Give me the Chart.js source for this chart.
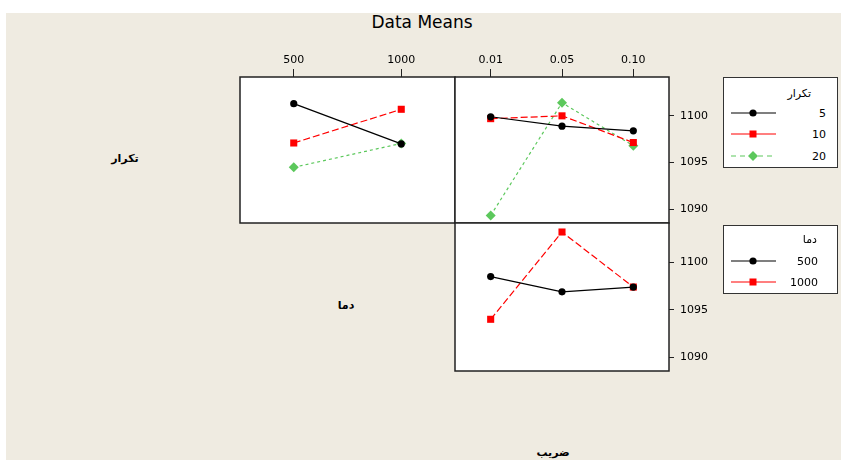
<!DOCTYPE html>
<html>
<head>
<meta charset="utf-8">
<script src="https://cdn.jsdelivr.net/npm/chart.js@4.4.1/dist/chart.umd.min.js"></script>
<style>
  html, body { margin:0; padding:0; }
  body { width:841px; height:460px; position:relative; overflow:hidden; background:#fff; font-family:"DejaVu Sans", sans-serif; }
  #bg { position:absolute; left:6px; top:13px; width:835px; height:447px; background:#EFEBE1; }
  canvas { position:absolute; left:0; top:0; }
  .txt { position:absolute; white-space:nowrap; color:#000; }
  .lab { font-weight:bold; font-size:11px; transform:translate(-50%,-50%); }
  .legend { position:absolute; box-sizing:border-box; background:#fff; border:1px solid #333; }
  .legend .lt { position:absolute; font-size:11px; direction:rtl; transform:translateY(-50%); }
  .legend .lv { position:absolute; font-size:11px; transform:translateY(-50%); }
  .legend svg { position:absolute; }
</style>
</head>
<body>
<div id="bg"></div>
<div class="txt" style="left:422px;top:22px;font-size:17px;transform:translate(-50%,-50%);">Data Means</div>
<div class="txt lab" style="left:125px;top:158px;" dir="rtl">تکرار</div>
<div class="txt lab" style="left:346px;top:305px;" dir="rtl">دما</div>
<div class="txt lab" style="left:553px;top:452px;" dir="rtl">ضریب</div>

<canvas id="cA" width="841" height="460"></canvas>
<canvas id="cB" width="841" height="460"></canvas>
<canvas id="cC" width="841" height="460"></canvas>

<div class="legend" style="left:723px;top:77px;width:115px;height:91px;">
  <div class="lt" style="right:26px;top:15px;">تکرار</div>
  <svg style="left:7px;top:29px" width="48" height="12"><line x1="0" y1="6" x2="45" y2="6" stroke="#000" stroke-width="1.2"/><circle cx="22" cy="6" r="3.6" fill="#000"/></svg>
  <div class="lv" style="right:11px;top:35px;">5</div>
  <svg style="left:7px;top:50px" width="48" height="12"><line x1="0" y1="6" x2="45" y2="6" stroke="#f00" stroke-width="1.2"/><rect x="18.5" y="2.5" width="7" height="7" fill="#f00"/></svg>
  <div class="lv" style="right:11px;top:56px;">10</div>
  <svg style="left:7px;top:72px" width="48" height="12"><line x1="0" y1="6" x2="45" y2="6" stroke="#5CC85C" stroke-width="1.2" stroke-dasharray="5,4"/><polygon points="22,1 27,6 22,11 17,6" fill="#5CC85C"/></svg>
  <div class="lv" style="right:11px;top:78px;">20</div>
</div>

<div class="legend" style="left:723px;top:225px;width:115px;height:69px;">
  <div class="lt" style="right:20px;top:13px;">دما</div>
  <svg style="left:7px;top:29px" width="48" height="12"><line x1="0" y1="6" x2="45" y2="6" stroke="#000" stroke-width="1.2"/><circle cx="22" cy="6" r="3.6" fill="#000"/></svg>
  <div class="lv" style="right:19px;top:35px;">500</div>
  <svg style="left:7px;top:50px" width="48" height="12"><line x1="0" y1="6" x2="45" y2="6" stroke="#f00" stroke-width="1.2"/><rect x="18.5" y="2.5" width="7" height="7" fill="#f00"/></svg>
  <div class="lv" style="right:19px;top:56px;">1000</div>
</div>

<script>
// ---- data ----
const tempLabels = ['500', '1000'];
const coefLabels = ['0.01', '0.05', '0.10'];
const yTicks = [1090, 1095, 1100];
const yMin = 1088.55;
const yMax = 1104.15;

// تکرار (repeat) series vs دما (temperature)
const rep5ByTemp  = [1101.3, 1097.0];
const rep10ByTemp = [1097.1, 1100.7];
const rep20ByTemp = [1094.5, 1097.05];

// تکرار (repeat) series vs ضریب (coefficient)
const rep5ByCoef  = [1099.9, 1098.9, 1098.4];
const rep10ByCoef = [1099.7, 1100.0, 1097.15];
const rep20ByCoef = [1089.35, 1101.4, 1096.8];

// دما (temperature) series vs ضریب (coefficient)
const temp500ByCoef  = [1098.5, 1096.9, 1097.4];
const temp1000ByCoef = [1094.0, 1103.2, 1097.4];

// ---- styling ----
Chart.defaults.font.family = '"DejaVu Sans", sans-serif';
Chart.defaults.font.size = 11;
Chart.defaults.color = '#000';

const GREEN = '#5CC85C';
function ds(label, data, kind) {
  const s = {
    black: { color: '#000', dash: [], style: 'circle', r: 3.6 },
    red:   { color: '#f00', dash: [7, 3], style: 'rect', r: 5 },
    green: { color: GREEN, dash: [3, 3], style: 'rectRot', r: 5 }
  }[kind];
  return {
    label, data,
    borderColor: s.color, backgroundColor: s.color,
    borderWidth: 1.2, borderDash: s.dash,
    pointStyle: s.style, pointRadius: s.r, pointBorderWidth: 0,
    pointBackgroundColor: s.color, tension: 0, fill: false
  };
}

const panelPlugin = {
  id: 'panel',
  beforeDraw(chart) {
    const { ctx, chartArea: a } = chart;
    ctx.save();
    ctx.fillStyle = '#fff';
    ctx.fillRect(a.left, a.top, a.right - a.left, a.bottom - a.top);
    ctx.restore();
  },
  afterDatasetsDraw(chart) {
    const { ctx, chartArea: a } = chart;
    ctx.save();
    ctx.strokeStyle = '#222';
    ctx.lineWidth = 1.5;
    ctx.strokeRect(a.left, a.top, a.right - a.left, a.bottom - a.top);
    ctx.restore();
  }
};

function makeChart(id, labels, datasets, o) {
  return new Chart(document.getElementById(id), {
    type: 'line',
    data: { labels, datasets },
    plugins: [panelPlugin],
    options: {
      responsive: false,
      animation: false,
      events: [],
      layout: { padding: o.padding },
      plugins: { legend: { display: false }, tooltip: { enabled: false }, title: { display: false } },
      scales: {
        x: {
          type: 'category',
          display: o.showX,
          position: 'top',
          offset: true,
          afterFit: (s) => { s.height = o.showX ? 37 : 0; },
          grid: { offset: false, drawOnChartArea: false, drawTicks: true, tickLength: 8, color: '#222', lineWidth: 1 },
          border: { display: false },
          ticks: { padding: 2, maxRotation: 0, autoSkip: false, font: { size: 11 } }
        },
        y: {
          type: 'linear',
          display: o.showY,
          position: 'right',
          min: yMin, max: yMax,
          afterFit: (s) => { s.width = o.showY ? 40 : 0; },
          afterBuildTicks: (s) => { s.ticks = yTicks.map(v => ({ value: v })); },
          grid: { drawOnChartArea: false, drawTicks: true, tickLength: 5, color: '#222', lineWidth: 1 },
          border: { display: false },
          ticks: { padding: 6, font: { size: 11 }, callback: (v) => String(v) }
        }
      }
    }
  });
}

// Panel: repeat vs temperature (top-left)
makeChart('cA', tempLabels, [
  ds('5', rep5ByTemp, 'black'),
  ds('10', rep10ByTemp, 'red'),
  ds('20', rep20ByTemp, 'green')
], { padding: { left: 240, right: 386, top: 40, bottom: 237 }, showX: true, showY: false });

// Panel: repeat vs coefficient (top-right)
makeChart('cB', coefLabels, [
  ds('5', rep5ByCoef, 'black'),
  ds('10', rep10ByCoef, 'red'),
  ds('20', rep20ByCoef, 'green')
], { padding: { left: 455, right: 132, top: 40, bottom: 237 }, showX: true, showY: true });

// Panel: temperature vs coefficient (bottom-right)
makeChart('cC', coefLabels, [
  ds('500', temp500ByCoef, 'black'),
  ds('1000', temp1000ByCoef, 'red')
], { padding: { left: 455, right: 132, top: 223, bottom: 89 }, showX: false, showY: true });
</script>
</body>
</html>
